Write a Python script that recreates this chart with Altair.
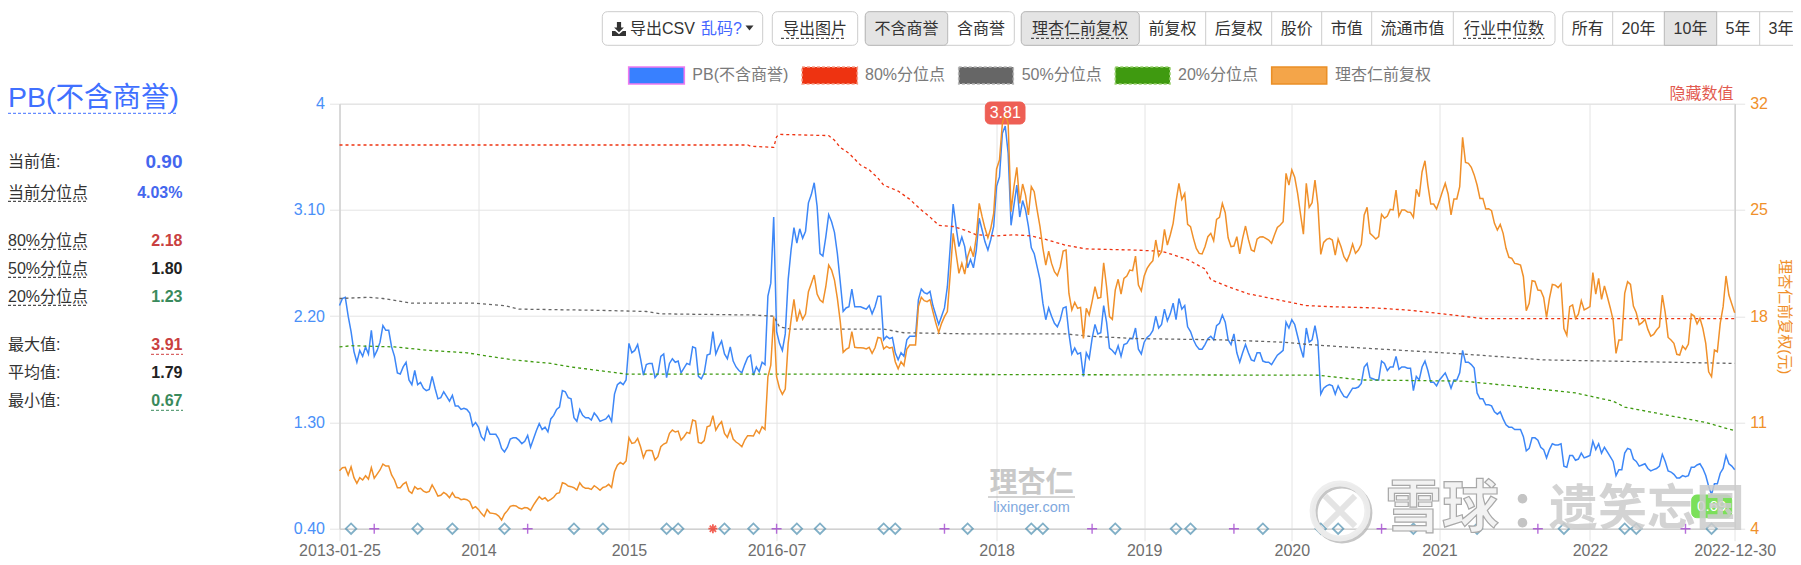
import altair as alt
import pandas as pd

FONT = "Liberation Sans, Noto Sans CJK SC"
CJK = "Noto Sans CJK SC"

# ---- PB (excluding goodwill), one value per trading-week slot
pb_a = [2.29,2.35,2.36,2.20,2.07,1.90,1.81,1.91,1.86,1.94,
        1.88,2.08,1.86,1.91,1.98,2.12,2.08,2.08,1.94,1.86,
        1.72,1.71,1.77,1.81,1.66,1.62,1.74,1.62,1.64,1.59,
        1.57,1.58,1.69,1.59,1.50,1.51,1.56,1.52,1.48,1.53,
        1.44,1.44,1.41,1.42,1.41,1.38,1.27,1.30,1.26,1.18,
        1.15,1.26,1.20,1.20,1.20,1.16,1.08,1.05,1.09,1.16,
        1.17,1.17,1.15,1.12,1.14,1.19,1.09,1.16,1.23,1.29,
        1.24,1.26,1.22,1.33,1.36,1.41,1.43,1.57,1.56,1.51,
        1.50,1.34,1.31,1.41,1.36,1.34,1.34,1.32,1.38,1.35,
        1.31,1.32,1.33,1.36,1.31,1.54,1.62,1.64,1.62,1.66,
        1.97,1.89,1.91,1.96,1.84,1.70,1.79,1.80,1.80,1.68,
        1.71,1.86,1.88,1.68,1.80,1.84,1.81,1.82,1.72,1.76,
        1.80,1.79,1.94,1.93,1.69,1.67,1.72,1.87,1.88,2.07,
        1.88,1.94,1.99,1.88,1.84,1.94,1.82,1.77,1.74,1.72,
        1.79,1.85,1.87,1.70,1.77,1.73,1.81,1.79,2.37,2.48,
        3.04]
pb_b = [2.07,1.97,1.91,2.05,2.51,2.76,2.95,2.82,2.94,2.86,
        2.92,3.16,3.23,3.33,3.13,2.73,2.71,2.87,3.06,3.00,
        2.91,2.73,2.49,2.24,2.27,2.28,2.43,2.28,2.28,2.28,
        2.27,2.26,2.29,2.22,2.28,2.37,2.37,2.00,2.03,2.01,
        2.02,1.89,1.83,1.89,1.86,2.00,2.03,2.03,2.03,2.34,
        2.43,2.40,2.39,2.41,2.29,2.21,2.13,2.20,2.27,2.45,
        2.79,3.15,2.96,2.79,2.87,2.79,2.61,2.68,2.61,2.76,
        3.03,2.93,2.83,2.76,2.85,2.96,3.30,3.38,3.75,3.81,
        3.58,2.97,3.14,3.31,3.04,3.18,3.10,2.96,2.78,2.73,
        2.62,2.51,2.31,2.17,2.27,2.20,2.14,2.11,2.17,2.27,
        2.28,2.05,1.88,1.93,1.88,1.89,1.69,1.89,1.84,2.01,
        2.13,2.05,2.06,2.29,2.15,1.93,1.91,1.88,1.95,1.86,
        1.96,1.97,2.01,2.01,2.10,1.92,1.88,1.98,2.02,2.04,
        2.08,2.20,2.10,2.13,2.26,2.16,2.22,2.31,2.17,2.35,
        2.26,2.29,2.11,2.07,2.00,1.95,1.92,1.92,1.96,2.01,
        2.03]
pb_c = [2.00,2.12,2.14,2.21,2.15,2.00,1.96,2.05,1.89,1.81,
        1.89,1.96,1.89,1.83,1.82,1.89,1.89,1.82,1.81,1.81,
        1.79,1.83,1.87,1.89,1.91,2.15,2.10,2.17,2.13,2.03,
        1.93,1.85,2.10,1.98,2.00,2.12,1.99,1.54,1.59,1.61,
        1.62,1.61,1.54,1.61,1.56,1.52,1.51,1.55,1.59,1.59,
        1.60,1.63,1.77,1.80,1.68,1.67,1.66,1.66,1.82,1.80,
        1.74,1.77,1.77,1.86,1.75,1.77,1.77,1.76,1.76,1.57,
        1.69,1.66,1.77,1.82,1.74,1.64,1.64,1.61,1.66,1.69,
        1.72,1.66,1.59,1.66,1.66,1.72,1.91,1.81,1.81,1.79,
        1.76,1.55,1.50,1.50,1.45,1.45,1.44,1.39,1.37,1.39,
        1.33,1.28,1.26]
pb_d = [1.26,1.24,1.24,1.24,1.18,1.06,1.08,1.17,1.17,1.15,
        1.09,1.07,1.00,1.07,1.12,1.11,1.11,1.12,0.93,0.92,
        1.02,1.02,0.98,0.99,1.04,1.00,1.01,1.02,1.14,1.07,
        1.12,1.04,1.09,1.05,1.01,0.97,0.85,0.90,0.90,1.04,
        1.08,1.07,0.99,0.97,0.93,0.94,0.95,0.91,0.89,0.90,
        0.91,0.93,1.03,0.97,0.89,0.88,0.86,0.83,0.83,0.85,
        0.84,0.85,0.92,0.92,0.94,0.95,0.91,0.85,0.76,0.69,
        0.78,0.78,0.87,0.91,1.02,0.95,0.93,0.90]

# ---- Lixinger forward-adjusted price (yuan)
price_a = [7.82,8.02,8.04,7.54,8.08,7.36,6.99,7.36,7.21,7.49,
           7.27,8.02,7.32,7.60,7.87,8.26,8.13,8.13,7.54,7.21,
           6.70,6.70,6.94,7.07,6.48,6.33,6.77,6.61,6.66,6.48,
           6.39,6.46,6.88,6.55,6.15,6.20,6.39,6.26,6.04,6.37,
           6.07,6.04,5.91,5.95,5.91,5.78,5.34,5.45,5.27,5.01,
           4.81,5.27,5.03,5.01,4.97,4.83,4.57,4.97,5.19,5.47,
           5.52,5.50,5.36,5.30,5.39,5.36,5.21,5.56,5.84,6.11,
           5.93,6.04,5.82,5.93,6.07,6.31,6.37,7.03,6.96,6.81,
           6.77,6.70,6.55,7.03,6.77,6.66,6.66,6.59,6.83,6.70,
           6.53,6.72,6.77,6.92,6.72,7.75,8.19,8.37,8.24,8.46,
           9.99,9.62,9.67,9.95,9.40,8.68,9.14,9.16,9.14,8.52,
           8.74,9.40,9.58,9.67,10.28,10.50,10.37,10.43,9.84,10.06,
           10.35,10.28,11.16,11.09,9.69,9.62,9.80,10.72,10.79,11.45,
           10.50,10.83,11.05,10.28,10.02,10.54,9.91,9.71,9.58,9.40,
           9.84,10.13,10.13,10.11,10.50,10.28,10.72,10.54,14.01,14.78,
           17.97]
price_b = [14.01,13.25,12.85,13.20,16.21,17.75,19.11,17.64,18.36,17.79,
           18.14,19.61,20.16,20.71,19.46,19.07,18.91,19.94,21.37,21.04,
           20.38,19.18,17.64,15.62,15.81,15.92,16.98,15.95,15.92,15.92,
           15.90,15.84,15.95,15.55,15.92,16.60,16.56,15.84,16.01,15.90,
           15.95,15.00,14.54,15.00,14.74,15.84,16.10,16.10,16.10,18.63,
           19.24,19.02,18.96,19.09,18.30,17.57,16.93,17.53,17.97,18.30,
           20.82,23.46,22.14,20.82,21.48,20.78,21.92,22.51,21.92,23.24,
           25.43,24.56,23.79,23.17,23.79,24.78,27.70,28.29,30.70,31.36,
           30.70,24.89,26.53,27.81,25.43,26.71,25.98,24.67,26.53,26.20,
           25.00,23.90,22.47,21.37,22.29,21.48,20.93,20.67,21.26,22.29,
           22.36,19.50,18.41,18.91,18.52,18.58,16.54,18.52,18.08,18.96,
           19.94,19.18,19.24,21.52,19.94,17.97,17.79,19.72,20.43,19.46,
           20.49,20.65,21.04,21.00,21.96,20.05,19.66,20.65,21.15,21.44,
           21.66,23.02,21.96,22.25,23.72,22.69,23.35,24.12,25.55,26.75,
           25.70,26.09,24.05,23.90,23.13,22.47,22.14,22.10,22.58,23.24,
           23.46]
price_c = [22.97,24.38,24.51,25.43,24.82,23.17,22.58,22.62,23.24,22.10,
           23.13,23.94,23.06,22.36,22.27,23.08,23.22,23.24,23.13,23.02,
           22.80,23.35,23.85,24.01,24.23,27.41,26.64,27.63,27.15,26.09,
           24.73,23.41,26.75,25.17,25.48,26.97,25.37,22.07,22.86,23.06,
           23.13,23.02,22.03,23.08,22.58,21.92,21.63,22.10,22.75,22.14,
           22.36,22.73,24.67,25.17,23.46,23.28,23.08,23.24,24.71,24.45,
           24.60,25.04,25.00,26.31,24.60,25.00,25.00,24.86,24.84,24.51,
           26.36,25.87,27.52,28.24,26.64,25.39,25.39,25.06,25.61,26.20,
           26.75,26.05,24.67,25.72,25.72,26.53,29.78,28.13,28.07,27.81,
           27.31,26.64,25.76,25.76,25.06,25.08,24.95,24.12,23.68,24.05,
           23.46,22.47,21.88]
price_d = [21.81,21.48,21.44,21.37,20.60,18.36,18.85,20.34,20.29,19.72,
           19.70,19.24,17.92,19.18,20.09,20.05,19.88,20.12,17.18,16.74,
           18.63,18.74,17.86,18.14,19.02,18.41,18.52,18.63,20.87,19.46,
           20.49,19.11,19.99,19.28,18.56,17.75,15.55,16.43,16.43,19.50,
           20.27,20.09,18.67,18.23,17.44,17.57,17.79,17.13,16.69,16.80,
           17.09,17.31,19.39,18.23,16.60,16.43,16.21,15.49,15.44,16.03,
           15.81,16.16,18.14,18.01,17.49,17.86,17.20,16.21,14.34,14.01,
           15.77,15.66,17.53,18.63,20.65,19.39,18.80,18.23]

pb_values = pb_a + pb_b + pb_c + pb_d
price_values = price_a + price_b + price_c + price_d
if len(pb_values) != len(price_values):
    raise SystemExit(f"lengths {len(pb_a)},{len(pb_b)},{len(pb_c)},{len(pb_d)} vs {len(price_a)},{len(price_b)},{len(price_c)},{len(price_d)}")
slots = list(range(len(pb_values)))

# ---- rolling quantiles (slot, value) at the bends of each line
q80_slot = [0,141,142,150,151,152,169,171,173,176,180,183,186,188,193,197,201,204,207,212,216,220,227,233,239,244,251,258,275,284,288,293,299,301,307,314,320,326,334,343,358,370,381,388,395,482]
q80_val  = [3.65,3.65,3.64,3.63,3.72,3.74,3.73,3.69,3.63,3.58,3.48,3.44,3.37,3.31,3.26,3.19,3.10,3.04,2.97,2.96,2.93,2.89,2.88,2.89,2.88,2.85,2.80,2.77,2.76,2.75,2.72,2.68,2.60,2.51,2.45,2.39,2.36,2.33,2.29,2.28,2.27,2.25,2.22,2.20,2.18,2.18]
q50_slot = [0,10,15,25,47,57,62,89,106,111,143,150,152,156,188,195,218,251,259,276,304,326,335,347,388,405,416,482]
q50_val  = [2.35,2.36,2.35,2.31,2.31,2.29,2.26,2.25,2.24,2.22,2.21,2.20,2.11,2.09,2.09,2.06,2.05,2.05,2.03,2.01,2.00,1.98,1.96,1.94,1.88,1.85,1.83,1.80]
q20_slot = [0,4,19,31,44,49,60,73,80,99,151,338,353,388,405,427,440,444,459,472,482]
q20_val  = [1.94,1.95,1.94,1.91,1.89,1.87,1.83,1.80,1.77,1.71,1.71,1.70,1.66,1.65,1.61,1.55,1.48,1.43,1.36,1.30,1.23]

# ---- event markers along the bottom
diamond_slots = [4,27,39,57,81,91,113,117,133,143,158,166,188,192,217,239,243,268,289,294,319,339,345,371,393,423,444,448,474]
plus_slots = [12,65,151,209,260,309,360,414,465]
star_slots = [129]

x_tick_slots = [0,48,100,151,227,278,329,380,432,482]
x_tick_labels = ["2013-01-25","2014","2015","2016-07","2018","2019","2020","2021","2022","2022-12-30"]
pb_ticks = [0.4,1.3,2.2,3.1,4]
price_ticks = [4,11,18,25,32]

stat_labels = ["当前值:","当前分位点","80%分位点","50%分位点","20%分位点","最大值:","平均值:","最小值:"]
stat_values = ["0.90","4.03%","2.18","1.80","1.23","3.91","1.79","0.67"]
legend_labels = ["PB(不含商誉)","80%分位点","50%分位点","20%分位点","理杏仁前复权"]

BLUE, ORANGE = "#3d87f7", "#f0902a"
RED, GREY, GREEN = "#ee3311", "#666666", "#3f9a10"
OX, OY = 339.5, 103.7
W, H = 1395.2, 425

main = pd.DataFrame({"slot": slots, "pb": pb_values, "price": price_values})
X_SCALE = alt.Scale(domain=[0, slots[-1]], nice=False, zero=False)
PB_SCALE = alt.Scale(domain=[0.4, 4], nice=False, zero=False)
PRICE_SCALE = alt.Scale(domain=[4, 32], nice=False, zero=False)
x_plain = alt.X("slot:Q", scale=X_SCALE, axis=None)
label_map = "{" + ",".join(f"{s}:'{t}'" for s, t in zip(x_tick_slots, x_tick_labels)) + "}"

x_axis = alt.Axis(values=x_tick_slots, labelExpr=f"{label_map}[datum.value]", title=None, grid=True,
                  gridColor="#e4e4e4", domainColor="#c8c8c8", tickColor="#e4e4e4", tickSize=12,
                  labelColor="#6e6e6e", labelFontSize=16, labelFont=FONT, labelPadding=2, labelOverlap=False,
                  labelFlush=False)
pb_axis = alt.Axis(orient="left", values=pb_ticks, title=None, grid=True, gridColor="#e4e4e4",
                   labelExpr="datum.value==4?'4':format(datum.value,'.2f')", domainColor="#c8c8c8",
                   tickColor="#e4e4e4", tickSize=10, labelColor="#4a90f8", labelFontSize=16, labelFont=FONT,
                   labelPadding=5)
price_axis = alt.Axis(orient="right", values=price_ticks, title="理杏仁前复权(元)", grid=False, domainColor="#c8c8c8",
                      tickColor="#e4e4e4", tickSize=10, labelColor=ORANGE, labelFontSize=16, labelFont=FONT,
                      labelPadding=5, titleColor=ORANGE, titleFontSize=15, titleFont=FONT, titleFontWeight="normal",
                      titlePadding=9)


def one(t=""):
    return alt.Chart(alt.Data(values=[{"t": t}]))


def txt(x, y, t, size=16, color="#333333", align="left", weight="normal", font=FONT, opacity=1, stroke=None):
    kw = dict(align=align, baseline="middle", fontSize=size, color=color, fontWeight=weight, font=font, opacity=opacity)
    if stroke:
        kw["stroke"] = stroke
        kw["strokeWidth"] = 1.2
    return one(t).mark_text(**kw).encode(x=alt.value(x - OX), y=alt.value(y - OY), text="t:N")


def box(x1, y1, x2, y2, fill="#ffffff", stroke="#cccccc", sw=1, radius=0, dash=None, opacity=1):
    kw = dict(fill=fill, stroke=stroke, strokeWidth=sw, cornerRadius=radius, opacity=opacity)
    if dash:
        kw["strokeDash"] = dash
    return one().mark_rect(**kw).encode(x=alt.value(x1 - OX), x2=alt.value(x2 - OX),
                                        y=alt.value(y1 - OY), y2=alt.value(y2 - OY))


def under(x1, x2, y, color="#222222", dash=(3, 2), sw=1):
    return one().mark_rule(color=color, strokeWidth=sw, strokeDash=list(dash)).encode(
        x=alt.value(x1 - OX), x2=alt.value(x2 - OX), y=alt.value(y - OY))


def sym(x, y, path, size, fill=None, stroke=None, sw=1, opacity=1):
    kw = dict(shape=path, size=size, opacity=opacity, strokeWidth=sw, filled=fill is not None)
    if fill:
        kw["color"] = fill
    if stroke:
        kw["stroke"] = stroke
        if not fill:
            kw["color"] = stroke
    return one().mark_point(**kw).encode(x=alt.value(x - OX), y=alt.value(y - OY))


def q_line(slot_list, val_list, color):
    df = pd.DataFrame({"slot": slot_list, "v": val_list})
    return alt.Chart(df).mark_line(color=color, strokeWidth=1.3, strokeDash=[3, 3]).encode(
        x=x_plain, y=alt.Y("v:Q", scale=PB_SCALE, axis=None))


def markers(slot_list, **mk):
    return alt.Chart(pd.DataFrame({"slot": slot_list})).mark_point(**mk).encode(
        x=x_plain, y=alt.value(H))


layers = []

# toolbar
layers += [box(602.3, 11.7, 762.7, 45.3, radius=5), box(772.3, 11.7, 857.7, 45.3, radius=5),
           box(865.3, 11.7, 1014.3, 45.3, radius=5), box(865.3, 11.7, 947.7, 45.3, fill="#e4e4e4", stroke="#b8b8b8", radius=4),
           box(1021.3, 11.7, 1555, 45.3, radius=5), box(1021.3, 11.7, 1139.3, 45.3, fill="#e4e4e4", stroke="#b8b8b8", radius=4),
           box(1562.7, 11.7, 1800, 45.3, radius=5), box(1664.3, 11.7, 1716.7, 45.3, fill="#e4e4e4", stroke="#b8b8b8")]
for sx in [1205.7, 1271.7, 1321.7, 1371.7, 1453.3, 1612.7, 1759.7]:
    layers.append(one().mark_rule(color="#cccccc").encode(x=alt.value(sx - OX), y=alt.value(11.7 - OY), y2=alt.value(45.3 - OY)))
layers += [sym(619, 29, "M-0.3,-1L0.3,-1L0.3,-0.2L0.7,-0.2L0,0.45L-0.7,-0.2L-0.3,-0.2ZM-1,0.3L-0.55,0.3L0,0.75L0.55,0.3L1,0.3L1,1L-1,1Z", 196, fill="#333333"),
           txt(630, 29, "导出CSV"), txt(701, 29, "乱码?", color="#4466ff"),
           sym(749.5, 28, "M-1,-0.6L1,-0.6L0,0.6Z", 64, fill="#333333")]
btn_labels = ["导出图片","不含商誉","含商誉","理杏仁前复权","前复权","后复权","股价","市值","流通市值","行业中位数","所有","20年","10年","5年","3年"]
btn_centers = [815,906.5,981,1080,1172.5,1238.7,1296.7,1346.7,1412.5,1504,1587.7,1638.5,1690.5,1738,1781]
for c, t in zip(btn_centers, btn_labels):
    layers.append(txt(c, 29, t, align="center"))
layers += [under(781, 846, 38.3), under(1031, 1128, 38.3), under(1463, 1544.5, 38.3)]

# legend
sw_x = [(628.7, 684.3), (802, 857.3), (958.7, 1013.3), (1115.3, 1170), (1271.7, 1326.7)]
sw_style = [("#3880ff", "#f07af0", None), (RED, "#f5a08a", [3, 2]), ("#666666", "#b5b5b5", [3, 2]),
            (GREEN, "#9ad070", [3, 2]), ("#f4a549", "#ea8f26", None)]
legend_x = [692.3, 865, 1021.7, 1178, 1335]
for (a, b), (f, s, d), lx, t in zip(sw_x, sw_style, legend_x, legend_labels):
    layers.append(box(a, 67, b, 84, fill=f, stroke=s, sw=1.6, dash=d))
    layers.append(txt(lx, 75, t, color="#7a7a7a"))
layers.append(txt(1733.5, 94, "隐藏数值", color="#e25a50", align="right"))

# left panel
layers += [txt(8, 97.5, "PB(不含商誉)", size=28.5, color="#4070ff"), under(8, 176, 113.3, color="#4070ff", dash=(3, 2))]
stat_y = [162.3, 193, 241, 269, 297, 345, 373, 401]
stat_col = ["#4466ee", "#4466ee", "#c94040", "#222222", "#3a8a5c", "#c94040", "#222222", "#3a8a5c"]
stat_size = [19, 16, 16, 16, 16, 16, 16, 16]
for y_, lab, val, col, sz in zip(stat_y, stat_labels, stat_values, stat_col, stat_size):
    layers.append(txt(8, y_, lab))
    layers.append(txt(182.5, y_, val, size=sz, color=col, align="right", weight="bold"))
for y_ in [201.3, 249.3, 277.3, 305.3]:
    layers.append(under(8, 88, y_))
layers += [under(151, 183, 354.3, color="#d04040"), under(151, 183, 410.3, color="#3a8a5c")]

# series
layers.append(alt.Chart(main).mark_line(color=BLUE, strokeWidth=1.5).encode(
    x=alt.X("slot:Q", scale=X_SCALE, axis=x_axis),
    y=alt.Y("pb:Q", scale=PB_SCALE, axis=pb_axis)))
layers += [q_line(q80_slot, q80_val, RED), q_line(q50_slot, q50_val, GREY), q_line(q20_slot, q20_val, GREEN)]
layers += [box(985.3, 102, 1025, 124, fill="#ee5f55", stroke="#ee5f55", radius=5)]
layers.append(alt.Chart(main).mark_line(color=ORANGE, strokeWidth=1.5).encode(
    x=x_plain, y=alt.Y("price:Q", scale=PRICE_SCALE, axis=price_axis)))
layers.append(txt(1005.2, 113, "3.81", size=16, color="#ffffff", align="center"))

# lixinger mark
layers += [txt(1031.5, 483.5, "理杏仁", size=28, color="#c9c9c9", align="center", weight="bold", font=CJK),
           under(988, 1075, 497, color="#aaaaaa", dash=(100, 1)),
           txt(1031.5, 507.5, "lixinger.com", size=14.5, color="#7fa9de", align="center")]

# events
layers += [markers(diamond_slots, shape="diamond", size=110, filled=False, color="#4d8fb0", strokeWidth=1.8),
           markers(plus_slots, shape="M-1,0L1,0M0,-1L0,1", size=100, filled=False, color="#9932cc", strokeWidth=1.4),
           markers(star_slots, shape="M-1,0L1,0M0,-1L0,1M-0.7,-0.7L0.7,0.7M-0.7,0.7L0.7,-0.7", size=81, filled=False, color="#ee2211", strokeWidth=1.8)]

# last-value badge and xueqiu watermark
layers += [box(1691.7, 495, 1731.7, 517.7, fill="#7be05a", stroke="#7be05a", radius=5),
           txt(1711.7, 506, "0.69", size=15, color="#ffffff", align="center")]
ring = "M1,0A1,1,0,1,1,-1,0A1,1,0,1,1,1,0"
cross = "M-0.55,-0.55L0.55,0.55M0.55,-0.55L-0.55,0.55"
layers += [sym(1342, 513, ring, 3000, stroke="#b8b8b8", sw=6, opacity=0.8),
           sym(1340, 511, ring, 3000, stroke="#eeeeee", sw=6, opacity=0.95),
           sym(1340, 511, cross, 3000, stroke="#e2e2e2", sw=6, opacity=0.9),
           txt(1385, 510, "雪球", size=57, color="#f2f2f2", weight="bold", font=CJK, stroke="#a8a8a8"),
           txt(1510, 512, "：", size=50, color="#c4c4c4", weight="bold", font=CJK),
           txt(1549, 510, "遗笑忘国", size=49, color="#cccccc", weight="bold", font=CJK, opacity=0.85)]

chart = alt.layer(*layers).resolve_scale(y="independent").resolve_axis(x="independent").properties(
    width=W, height=H,
    autosize=alt.AutoSizeParams(type="none"),
    padding={"left": OX - 8, "top": OY - 8, "right": 1793 - (OX + W), "bottom": 560 - (OY + H)},
).configure_view(stroke=None).configure(font=FONT)

chart.save("out.html", embed_options={"renderer": "svg", "actions": False})
